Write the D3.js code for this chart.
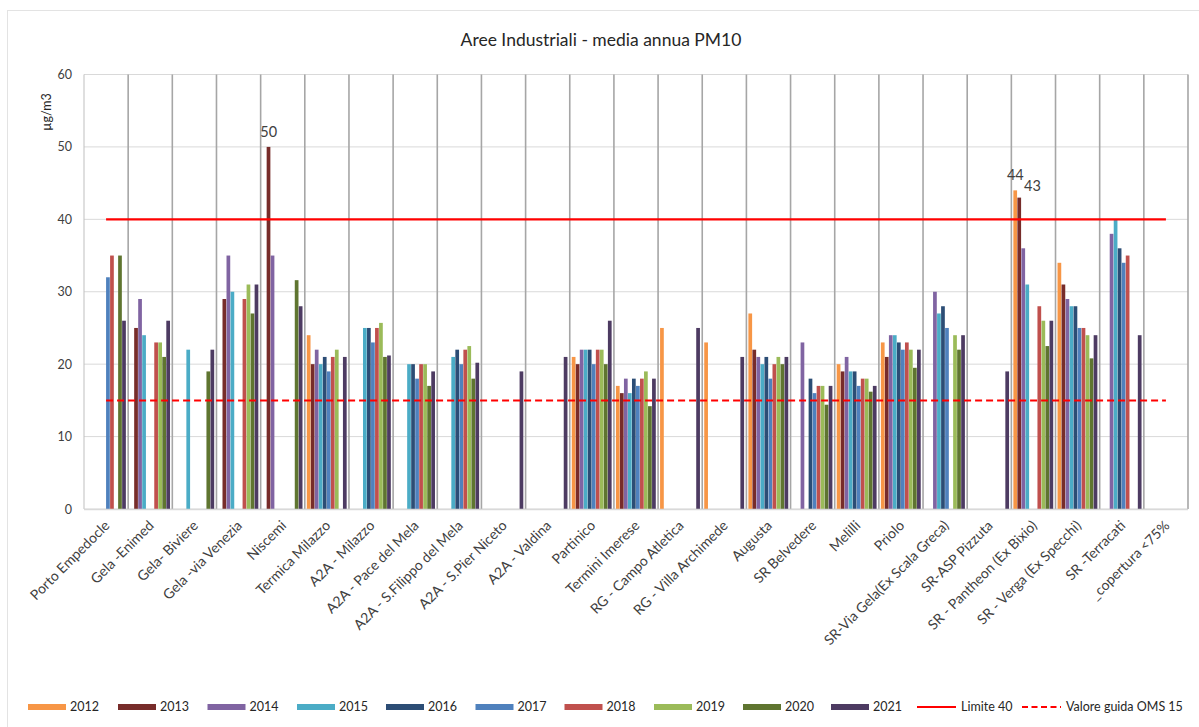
<!DOCTYPE html>
<html><head><meta charset="utf-8">
<script src="https://cdn.jsdelivr.net/npm/d3@7"></script>
<style>body{margin:0;background:#fff;}svg{display:block;font-family:Lato,"Open Sans",sans-serif;}</style>
</head><body>
<svg id="chart" width="1199" height="727"></svg>
<script>
const categories = ["Porto Empedocle","Gela -Enimed","Gela- Biviere","Gela -via Venezia","Niscemi","Termica Milazzo","A2A - Milazzo","A2A - Pace del Mela","A2A - S.Filippo del Mela","A2A - S.Pier Niceto","A2A - Valdina","Partinico","Termini Imerese","RG - Campo Atletica","RG - Villa Archimede","Augusta","SR Belvedere","Melilli","Priolo","SR-Via Gela(Ex Scala Greca)","SR-ASP Pizzuta","SR - Pantheon (Ex Bixio)","SR - Verga (Ex Specchi)","SR -Terracati","_copertura <75%"];
const years = ["2012","2013","2014","2015","2016","2017","2018","2019","2020","2021"];
const colors = ["#F79646","#772C2A","#8064A2","#4BACC6","#2C4D75","#4F81BD","#C0504D","#9BBB59","#5F7530","#4D3B62"];
// one array per year, aligned with categories (null = no data)
const v2012 = [null,null,null,null,null,24,null,null,null,null,null,21,17,25,23,27,null,20,23,null,null,44,34,null,null];
const v2013 = [null,25,null,29,50,20,null,null,null,null,null,20,16,null,null,22,null,19,21,null,null,43,31,null,null];
const v2014 = [null,29,null,35,35,22,null,null,null,null,null,22,18,null,null,21,23,21,24,30,null,36,29,38,null];
const v2015 = [null,24,22,30,null,20,25,20,21,null,null,22,16,null,null,20,null,19,24,27,null,31,28,40,null];
const v2016 = [null,null,null,null,null,21,25,20,22,null,null,22,18,null,null,21,18,19,23,28,null,null,28,36,null];
const v2017 = [32,null,null,null,null,19,23,18,20,null,null,20,17,null,null,18,16,17,22,25,null,null,25,34,null];
const v2018 = [35,23,null,29,null,21,25,20,22,null,null,22,18,null,null,20,17,18,23,null,null,28,25,35,null];
const v2019 = [null,23,null,31,null,22,25.7,20,22.5,null,null,22,19,null,null,21,17,18,22,24,null,26,24,null,null];
const v2020 = [35,21,19,27,31.6,null,21,17,18,null,null,20,14.2,null,null,20,14.4,16.2,19.5,22,null,22.5,20.8,null,null];
const v2021 = [26,26,22,31,28,21,21.2,19,20.2,19,21,26,18,25,21,21,17,17,22,24,19,26,24,24,null];
const seriesValues = [v2012,v2013,v2014,v2015,v2016,v2017,v2018,v2019,v2020,v2021];
const yTicks = [0,10,20,30,40,50,60];
const limite = 40, omsGuide = 15;
const dataLabels = [{cat:"Niscemi", year:"2013", value:50},{cat:"SR - Pantheon (Ex Bixio)", year:"2012", value:44},{cat:"SR - Pantheon (Ex Bixio)", year:"2013", value:43}];
const legendLabels = years.concat(["Limite 40","Valore guida OMS 15"]);

const svg = d3.select("#chart");
const L = 84, R = 1188, T = 74.5, B = 509;
// outer chart border
svg.append("rect").attr("x",7.5).attr("y",10.5).attr("width",1220).attr("height",740).attr("fill","none").attr("stroke","#e3e3e3");

const x0 = d3.scaleBand().domain(categories).range([L,R]).paddingInner(0).paddingOuter(0);
const x1 = d3.scaleBand().domain(years).range([2, x0.bandwidth()-2]).padding(0);
const y = d3.scaleLinear().domain([0,60]).range([B,T]);

// horizontal gridlines
svg.append("g").selectAll("line").data(yTicks).join("line")
  .attr("x1",L).attr("x2",R).attr("y1",d=>y(d)).attr("y2",d=>y(d))
  .attr("stroke","#d9d9d9").attr("stroke-width",1);
// vertical gridlines at category boundaries
const bounds = categories.map(c=>x0(c)).concat([x0(categories[categories.length-1])+x0.bandwidth()]);
svg.append("g").selectAll("line").data(bounds).join("line")
  .attr("x1",d=>d).attr("x2",d=>d).attr("y1",T).attr("y2",B)
  .attr("stroke",(d,i)=> i===0 ? "#bfbfbf" : "#a6a6a6").attr("stroke-width",(d,i)=> i===0?1:1.6);

// y axis labels
const yAxis = d3.axisLeft(y).tickValues(yTicks).tickSize(0).tickPadding(12);
const gy = svg.append("g").attr("transform",`translate(${L},0)`).call(yAxis);
gy.select(".domain").remove();
gy.selectAll("text").attr("font-size",12.5).attr("fill","#404040").attr("font-family","Lato,sans-serif");

// bars
const flat = [];
seriesValues.forEach((arr,si)=>arr.forEach((v,ci)=>{ if(v!==null) flat.push({cat:categories[ci],year:years[si],v,si}); }));
svg.append("g").selectAll("rect").data(flat).join("rect")
  .attr("x",d=>x0(d.cat)+x1(d.year)).attr("width",x1.bandwidth()-0.3)
  .attr("y",d=>y(d.v)).attr("height",d=>B-y(d.v))
  .attr("fill",d=>colors[d.si]);

// bottom axis line
svg.append("line").attr("x1",L).attr("x2",R).attr("y1",B+0.5).attr("y2",B+0.5).attr("stroke","#d9d9d9").attr("stroke-width",1.5);

// limit lines through category centres
const line = d3.line().x(d=>x0(d.c)+x0.bandwidth()/2).y(d=>y(d.v));
svg.append("path").attr("d",line(categories.map(c=>({c,v:limite})))).attr("fill","none").attr("stroke","#FF0000").attr("stroke-width",2.2);
svg.append("path").attr("d",line(categories.map(c=>({c,v:omsGuide})))).attr("fill","none").attr("stroke","#FF0000").attr("stroke-width",2).attr("stroke-dasharray","7,4");

// data labels
svg.append("g").selectAll("text").data(dataLabels).join("text")
  .attr("x",d=>x0(d.cat)+x1(d.year)+x1.bandwidth()/2 + (d.value===43?13:0))
  .attr("y",d=>y(d.value)-(d.value===43?7:10))
  .attr("text-anchor","middle").attr("font-size",14.5).attr("fill","#404040").text(d=>d.value);

// x labels
svg.append("g").selectAll("text").data(categories).join("text")
  .attr("transform",d=>`translate(${x0(d)+x0.bandwidth()/2+1},${B+14}) rotate(-45)`)
  .attr("text-anchor","end").attr("dy","0.35em").attr("font-size",14).attr("fill","#404040").text(d=>d);

// title
svg.append("text").attr("x",601).attr("y",46).attr("text-anchor","middle").attr("font-size",17.5).attr("fill","#262626").text("Aree Industriali - media annua PM10");
// y title
svg.append("text").attr("transform","translate(51,112) rotate(-90)").attr("text-anchor","middle").attr("font-size",12.5).attr("fill","#262626").text("µg/m3");

// legend (item start positions are layout)
const legendX = [28,118,207.5,297,386,475.5,564.5,654,743,831,917,1022];
const ly = 707;
legendLabels.forEach((lab,i)=>{
  const lx = legendX[i];
  const g = svg.append("g");
  if(i<10){
    g.append("rect").attr("x",lx).attr("y",ly-3).attr("width",38).attr("height",6).attr("fill",colors[i]);
  } else {
    g.append("line").attr("x1",lx).attr("x2",lx+39).attr("y1",ly).attr("y2",ly).attr("stroke","#FF0000").attr("stroke-width",2)
      .attr("stroke-dasharray", i===11 ? "6,3.5" : null);
  }
  g.append("text").attr("x",lx+(i<10?42:44)).attr("y",ly).attr("dy","0.35em").attr("font-size",12.5).attr("fill","#262626").text(lab);
});
</script>
</body></html>
